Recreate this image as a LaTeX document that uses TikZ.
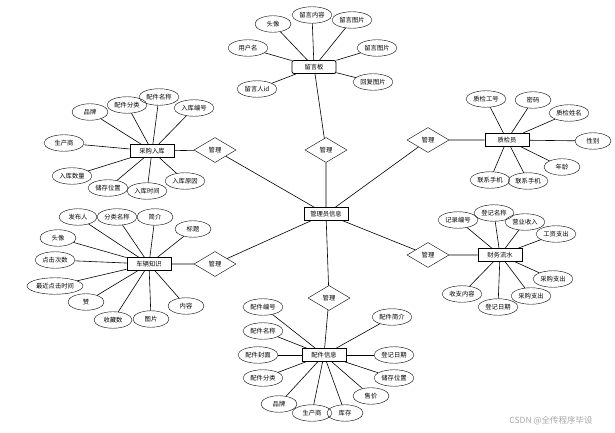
\documentclass[tikz,border=0pt]{standalone}
\usepackage{fontspec}
\setmainfont{Noto Sans CJK SC}
\usetikzlibrary{shapes.geometric}

\begin{document}
\begin{tikzpicture}[
    x=1pt, y=-1pt,
    every node/.style={font=\fontsize{6.3}{7}\selectfont},
    entity/.style={rectangle, draw, thick, minimum width=44, minimum height=13, inner sep=1pt},
    attr/.style={ellipse, draw, minimum width=40, minimum height=16.5, inner sep=0.5pt},
    rel/.style={diamond, draw, minimum width=42, minimum height=25, inner sep=0pt},
    edge/.style={semithick, -}
]
\useasboundingbox (0,0) rectangle (615,433);

% Define entities
\node[entity] (admin) at (326, 214) {管理员信息};
\node[entity, rounded corners=2pt] (board) at (314, 67) {留言板};
\node[entity] (qc) at (507, 140) {质检员};
\node[entity] (fin) at (500, 255) {财务流水};
\node[entity] (part) at (324, 355) {配件信息};
\node[entity] (stock) at (152, 151) {采购入库};
\node[entity] (know) at (149, 264) {车辆知识};

% Define relations
\node[rel] (r1) at (326, 150) {管理};
\node[rel] (r2) at (215, 150) {管理};
\node[rel] (r3) at (215, 264) {管理};
\node[rel] (r4) at (329, 298) {管理};
\node[rel] (r5) at (428, 140) {管理};
\node[rel] (r6) at (428, 255) {管理};

% Define attributes of board
\node[attr, minimum width=36] (b1) at (273, 24) {头像};
\node[attr] (b2) at (312, 15) {留言内容};
\node[attr] (b3) at (352, 20) {留言图片};
\node[attr] (b4) at (248, 48) {用户名};
\node[attr] (b5) at (377, 48) {留言图片};
\node[attr] (b6) at (373, 82) {回复图片};
\node[attr] (b7) at (257, 89) {留言人id};

% Define attributes of qc
\node[attr] (q1) at (486, 99) {质检工号};
\node[attr, minimum width=36] (q2) at (533, 100) {密码};
\node[attr] (q3) at (569, 113) {质检姓名};
\node[attr, minimum width=36] (q4) at (593, 141) {性别};
\node[attr, minimum width=36] (q5) at (562, 167) {年龄};
\node[attr] (q6) at (490, 180) {联系手机};
\node[attr] (q7) at (528, 181) {联系手机};

% Define attributes of fin
\node[attr] (f1) at (458, 220) {记录编号};
\node[attr] (f2) at (494, 213) {登记名称};
\node[attr] (f3) at (525, 222) {营业收入};
\node[attr] (f4) at (556, 234) {工资支出};
\node[attr] (f5) at (553, 279) {采购支出};
\node[attr] (f6) at (531, 296) {采购支出};
\node[attr] (f7) at (498, 307) {登记日期};
\node[attr] (f8) at (462, 294) {收支内容};

% Define attributes of part
\node[attr] (p1) at (263, 307) {配件编号};
\node[attr] (p2) at (263, 331) {配件名称};
\node[attr] (p3) at (258, 355) {配件封面};
\node[attr] (p4) at (263, 378) {配件分类};
\node[attr, minimum width=36] (p5) at (279, 404) {品牌};
\node[attr] (p6) at (312, 413) {生产商};
\node[attr, minimum width=36] (p7) at (345, 413) {库存};
\node[attr, minimum width=36] (p8) at (371, 396) {售价};
\node[attr] (p9) at (394, 378) {储存位置};
\node[attr] (p10) at (394, 355) {登记日期};
\node[attr] (p11) at (392, 317) {配件简介};

% Define attributes of stock
\node[attr, minimum width=36] (s1) at (90, 112) {品牌};
\node[attr] (s2) at (127, 105) {配件分类};
\node[attr] (s3) at (159, 97) {配件名称};
\node[attr] (s4) at (194, 108) {入库编号};
\node[attr] (s5) at (64, 143) {生产商};
\node[attr] (s6) at (72, 176) {入库数量};
\node[attr] (s7) at (108, 188) {储存位置};
\node[attr] (s8) at (147, 191) {入库时间};
\node[attr] (s9) at (185, 181) {入库原因};

% Define attributes of know
\node[attr, minimum width=38] (k1) at (78, 217) {发布人};
\node[attr] (k2) at (117, 217) {分类名称};
\node[attr, minimum width=36] (k3) at (155, 217) {简介};
\node[attr, minimum width=36] (k4) at (193, 229) {标题};
\node[attr, minimum width=36] (k5) at (58, 238) {头像};
\node[attr] (k6) at (55, 260) {点击次数};
\node[attr, minimum width=56] (k7) at (55, 286) {最近点击时间};
\node[attr, minimum width=36] (k8) at (86, 302) {赞};
\node[attr, minimum width=38] (k9) at (113, 320) {收藏数};
\node[attr, minimum width=36] (k10) at (151, 319) {图片};
\node[attr, minimum width=36] (k11) at (186, 306) {内容};

% Define edges
\draw[edge] (admin) -- (r1) -- (board);
\draw[edge] (admin) -- (r2) -- (stock);
\draw[edge] (admin) -- (r3) -- (know);
\draw[edge] (admin) -- (r4) -- (part);
\draw[edge] (admin) -- (r5) -- (qc);
\draw[edge] (admin) -- (r6) -- (fin);

\draw[edge] (board) -- (b1);
\draw[edge] (board) -- (b2);
\draw[edge] (board) -- (b3);
\draw[edge] (board) -- (b4);
\draw[edge] (board) -- (b5);
\draw[edge] (board) -- (b6);
\draw[edge] (board) -- (b7);

\draw[edge] (qc) -- (q1);
\draw[edge] (qc) -- (q2);
\draw[edge] (qc) -- (q3);
\draw[edge] (qc) -- (q4);
\draw[edge] (qc) -- (q5);
\draw[edge] (qc) -- (q6);
\draw[edge] (qc) -- (q7);

\draw[edge] (fin) -- (f1);
\draw[edge] (fin) -- (f2);
\draw[edge] (fin) -- (f3);
\draw[edge] (fin) -- (f4);
\draw[edge] (fin) -- (f5);
\draw[edge] (fin) -- (f6);
\draw[edge] (fin) -- (f7);
\draw[edge] (fin) -- (f8);

\draw[edge] (part) -- (p1);
\draw[edge] (part) -- (p2);
\draw[edge] (part) -- (p3);
\draw[edge] (part) -- (p4);
\draw[edge] (part) -- (p5);
\draw[edge] (part) -- (p6);
\draw[edge] (part) -- (p7);
\draw[edge] (part) -- (p8);
\draw[edge] (part) -- (p9);
\draw[edge] (part) -- (p10);
\draw[edge] (part) -- (p11);

\draw[edge] (stock) -- (s1);
\draw[edge] (stock) -- (s2);
\draw[edge] (stock) -- (s3);
\draw[edge] (stock) -- (s4);
\draw[edge] (stock) -- (s5);
\draw[edge] (stock) -- (s6);
\draw[edge] (stock) -- (s7);
\draw[edge] (stock) -- (s8);
\draw[edge] (stock) -- (s9);

\draw[edge] (know) -- (k1);
\draw[edge] (know) -- (k2);
\draw[edge] (know) -- (k3);
\draw[edge] (know) -- (k4);
\draw[edge] (know) -- (k5);
\draw[edge] (know) -- (k6);
\draw[edge] (know) -- (k7);
\draw[edge] (know) -- (k8);
\draw[edge] (know) -- (k9);
\draw[edge] (know) -- (k10);
\draw[edge] (know) -- (k11);

% Watermark
\node[text=gray!70, font=\fontsize{8.5}{9}\selectfont] (mark) at (551, 421) {CSDN @全传程序毕设};

\end{tikzpicture}
\end{document}
